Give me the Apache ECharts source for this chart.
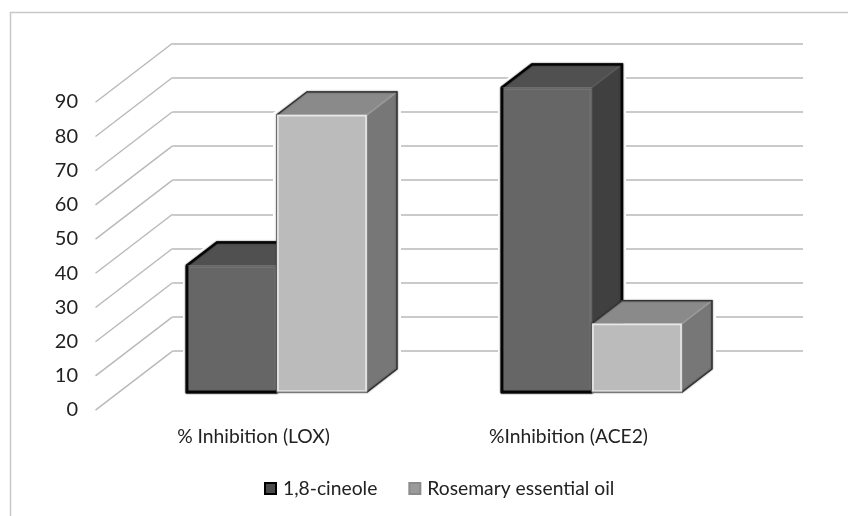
<!DOCTYPE html>
<html><head><meta charset="utf-8">
<style>html,body{margin:0;padding:0;background:#fff}#c{width:848px;height:516px}</style>
<script src="https://cdn.jsdelivr.net/npm/echarts@6/dist/echarts.min.js"></script>
</head><body><div id="c"></div>
<script>
const categories = ['% Inhibition (LOX)', '%Inhibition (ACE2)'];
const cineole = [37, 89];
const rosemary = [81, 20];
const yTicks = [0, 10, 20, 30, 40, 50, 60, 70, 80, 90];
const seriesNames = ['1,8-cineole', 'Rosemary essential oil'];

const font = 'Lato';
const textColor = '#222222';
const gridColor = '#b9b9b9';
const DX = 30, DY = 23;           // bar depth
const WX = 77, WY = 59;           // wall depth

const styles = [
  { front: '#666666', top: '#505050', side: '#404040', edge: '#050505', edgeW: 2.4, crease: '#5a5a5a',
    inner: '#757575', innerW: 1, inset: 2 },
  { front: '#bbbbbb', top: '#8a8a8a', side: '#777777', edge: '#333333', edgeW: 1.3, crease: '#9a9a9a',
    inner: '#e8e8e8', innerW: 1.6, inset: 1 }
];

function pts(api, side) {
  const p = api.coord([api.value(0), api.value(1)]);
  const b = api.coord([api.value(0), 0]);
  const w = api.size([1, 0])[0] * 2 / 7;
  const l = side === 0 ? p[0] - w : p[0];
  return { l, r: l + w, t: p[1], b: b[1] };
}
function barRenderer(idx) {
  return function (params, api) {
    const s = styles[idx], g = pts(api, idx);
    const face = (points, fill) => ({ type: 'polygon', shape: { points }, style: { fill, stroke: fill, lineWidth: 0.5 } });
    const children = [
      face([[g.r, g.t], [g.r + DX, g.t - DY], [g.r + DX, g.b - DY], [g.r, g.b]], s.side),
      face([[g.l, g.t], [g.l + DX, g.t - DY], [g.r + DX, g.t - DY], [g.r, g.t]], s.top),
      { type: 'line', shape: { x1: g.r, y1: g.t, x2: g.r + DX, y2: g.t - DY }, style: { stroke: s.crease, lineWidth: 1.5 } },
      { type: 'polygon',
        shape: { points: [[g.l, g.t], [g.l + DX, g.t - DY], [g.r + DX, g.t - DY], [g.r + DX, g.b - DY], [g.r, g.b], [g.l, g.b]] },
        style: { fill: 'none', stroke: s.edge, lineWidth: s.edgeW, shadowBlur: 1.5, shadowColor: s.edge } },
      face([[g.l, g.t], [g.r, g.t], [g.r, g.b], [g.l, g.b]], s.front),
      { type: 'polygon',
        shape: { points: [[g.l + s.inset, g.t + s.inset], [g.r - s.inset, g.t + s.inset], [g.r - s.inset, g.b - s.inset], [g.l + s.inset, g.b - s.inset]] },
        style: { fill: 'none', stroke: s.inner, lineWidth: s.innerW } }
    ];
    if (idx === 0) {
      children.push({ type: 'polyline', shape: { points: [[g.l, g.t], [g.l, g.b], [g.r, g.b]] },
        style: { fill: 'none', stroke: s.edge, lineWidth: 2.4, shadowBlur: 1.5, shadowColor: s.edge } });
    } else {
      children.push({ type: 'line', shape: { x1: g.l, y1: g.b, x2: g.r, y2: g.b }, style: { stroke: '#8c8c8c', lineWidth: 1.2 } });
    }
    return { type: 'group', children };
  };
}
function haloRenderer(idx) {
  return function (params, api) {
    const g = pts(api, idx);
    return {
      type: 'polygon',
      shape: { points: [[g.l, g.t], [g.l + DX, g.t - DY], [g.r + DX, g.t - DY], [g.r + DX, g.b - DY], [g.r, g.b], [g.l, g.b]] },
      style: { fill: '#fff', stroke: '#fff', lineWidth: 8 }
    };
  };
}
function diagonalRenderer(params, api) {
  const x = params.coordSys.x, y = api.coord([0, api.value(0)])[1];
  return {
    type: 'line',
    shape: { x1: x, y1: y, x2: x - WX, y2: y + WY },
    style: { stroke: gridColor, lineWidth: 1.4 }
  };
}
const barData = arr => categories.map((c, i) => [i, arr[i]]);

const chart = echarts.init(document.getElementById('c'), null, { renderer: 'canvas' });
chart.setOption({
  animation: false,
  backgroundColor: '#fff',
  graphic: [
    { type: 'polyline', silent: true, shape: { points: [[848, 12.5], [10.5, 12.5], [10.5, 516]] },
      style: { fill: 'none', stroke: '#c8c8c8', lineWidth: 1.5 } }
  ],
  legend: {
    data: seriesNames.map(name => ({ name, icon: 'rect' })),
    left: 264, top: 479, padding: 0, itemWidth: 11, itemHeight: 11, itemGap: 31,
    textStyle: { fontFamily: font, fontSize: 19.3, color: textColor, padding: [0, 0, 0, 2] }
  },
  grid: [
    { left: 96, top: 102, width: 630, height: 308 },
    { left: 172.5, top: 43.3, width: 630.5, height: 307.8 },
    { left: 119.5, top: 84, width: 630, height: 308 }
  ],
  xAxis: [
    { gridIndex: 0, type: 'category', data: categories, axisLine: { show: false }, axisTick: { show: false },
      axisLabel: { fontFamily: font, fontSize: 19.3, color: textColor, margin: 17 } },
    { gridIndex: 1, type: 'category', data: categories, show: false },
    { gridIndex: 2, type: 'category', data: categories, show: false }
  ],
  yAxis: [
    { gridIndex: 0, type: 'value', min: 0, max: 90, interval: 10, splitLine: { show: false },
      axisLine: { show: false }, axisTick: { show: false },
      axisLabel: { fontFamily: font, fontSize: 20, color: textColor, margin: 18 } },
    { gridIndex: 1, type: 'value', min: 0, max: 90, interval: 10, axisLine: { show: false }, axisTick: { show: false },
      axisLabel: { show: false }, splitLine: { show: true, lineStyle: { color: gridColor, width: 1.6 } } },
    { gridIndex: 2, type: 'value', min: 0, max: 90, interval: 10, axisLine: { show: false }, axisTick: { show: false },
      axisLabel: { show: false }, splitLine: { show: false } }
  ],
  series: [
    { type: 'custom', name: 'walls', xAxisIndex: 1, yAxisIndex: 1, silent: true, z: 1,
      renderItem: diagonalRenderer, data: yTicks.map(v => [v]), encode: { y: 0 } },
    { type: 'custom', name: 'halo0', xAxisIndex: 2, yAxisIndex: 2, silent: true, z: 2,
      renderItem: haloRenderer(0), data: barData(cineole) },
    { type: 'custom', name: 'halo1', xAxisIndex: 2, yAxisIndex: 2, silent: true, z: 2,
      renderItem: haloRenderer(1), data: barData(rosemary) },
    { type: 'custom', name: seriesNames[0], xAxisIndex: 2, yAxisIndex: 2, z: 3,
      itemStyle: { color: '#4a4a4a', borderColor: '#000', borderWidth: 1.5 },
      renderItem: barRenderer(0), data: barData(cineole) },
    { type: 'custom', name: seriesNames[1], xAxisIndex: 2, yAxisIndex: 2, z: 4,
      itemStyle: { color: '#9a9a9a', borderColor: '#8a8a8a', borderWidth: 0.5 },
      renderItem: barRenderer(1), data: barData(rosemary) }
  ]
});
</script></body></html>
